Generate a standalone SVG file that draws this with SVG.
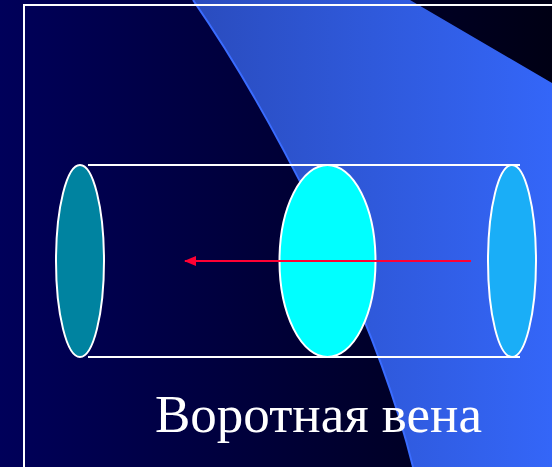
<svg xmlns="http://www.w3.org/2000/svg" width="552" height="467" viewBox="0 0 552 467">
<defs>
<linearGradient id="bg" x1="0" y1="0" x2="1" y2="0">
<stop offset="0" stop-color="#00005a"/>
<stop offset="1" stop-color="#000014"/>
</linearGradient>
<linearGradient id="blue" x1="0" y1="0" x2="1" y2="0">
<stop offset="0" stop-color="#2a4cbe"/>
<stop offset="1" stop-color="#3466f8"/>
</linearGradient>
<marker id="ah" markerWidth="12" markerHeight="10" refX="11" refY="5" orient="auto" markerUnits="userSpaceOnUse" viewBox="0 0 12 10">
<path d="M0,0 L12,5 L0,10 Z" fill="#ff0033"/>
</marker>
<style>
.edge{stroke:#fff;stroke-width:2;fill:none}
.cap{stroke:#fff;stroke-width:2}
.lbl{font-family:"Liberation Serif","Times New Roman",serif;font-size:53px;fill:#fff}
</style>
</defs>
<rect width="552" height="467" fill="url(#bg)"/>
<path d="M193,0 L410,0 L552,83 L552,467 L413,467 C372,300 262,100 193,0 Z" fill="url(#blue)"/>
<path d="M193,0 C262,100 372,300 413,467" fill="none" stroke="#3a6cff" stroke-width="2"/>
<path d="M24,470 L24,5 L555,5" class="edge"/>
<g id="cylinder">
<line x1="88" y1="165" x2="520" y2="165" class="edge"/>
<line x1="88" y1="357" x2="520" y2="357" class="edge"/>
</g>
<g id="left-end"><ellipse cx="80" cy="261" rx="24" ry="96" fill="#0083a0" class="cap"/></g>
<g id="middle-section"><ellipse cx="327.5" cy="261" rx="48" ry="96" fill="#00ffff" class="cap"/></g>
<g id="right-end"><ellipse cx="512" cy="261" rx="24" ry="96" fill="#1aaef7" class="cap"/></g>
<g id="connectors">
<line x1="471" y1="261" x2="185" y2="261" stroke="#ff0033" stroke-width="2" marker-end="url(#ah)"/>
</g>
<text x="155" y="432" class="lbl">Воротная вена</text>
</svg>
